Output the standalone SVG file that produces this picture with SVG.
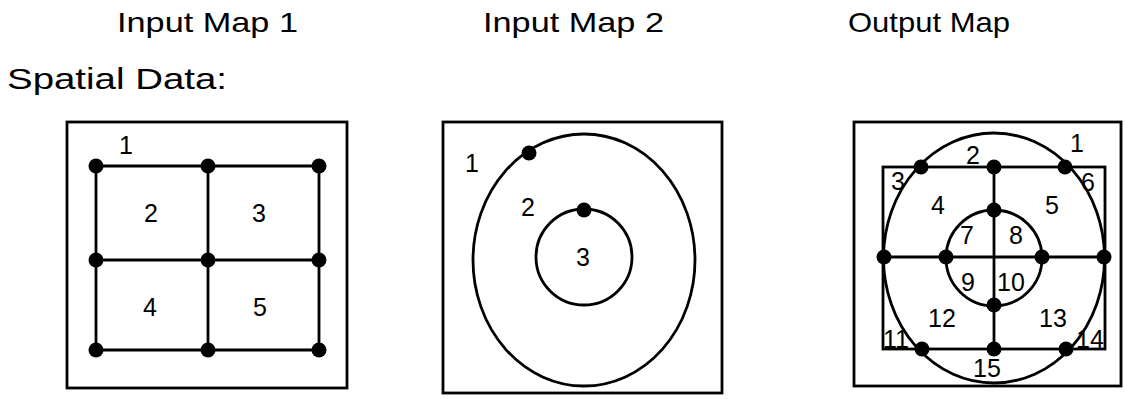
<svg xmlns="http://www.w3.org/2000/svg" width="1126" height="399" viewBox="0 0 1126 399">
<style>
.t{font-family:"Liberation Sans","DejaVu Sans",sans-serif;fill:#000}
.title{font-size:28px}
.lbl{font-size:25px;text-anchor:middle}
.box{fill:none;stroke:#000;stroke-width:2.8}
.ln{fill:none;stroke:#000;stroke-width:2.8}
.dot{fill:#000}
</style>
<rect width="1126" height="399" fill="#fff"/>
<g id="titles">
<text class="t title" x="117" y="32" textLength="181" lengthAdjust="spacingAndGlyphs">Input Map 1</text>
<text class="t title" x="483" y="32" textLength="181" lengthAdjust="spacingAndGlyphs">Input Map 2</text>
<text class="t title" x="848" y="32" textLength="162" lengthAdjust="spacingAndGlyphs">Output Map</text>
<text class="t" x="7" y="89" font-size="30" textLength="220" lengthAdjust="spacingAndGlyphs">Spatial Data:</text>
</g>
<g id="map1">
<rect class="box" x="67" y="122" width="280" height="266"/>
<path class="ln" d="M96,166 H319 M96,260 H319 M96,350 H319 M96,166 V350 M208,166 V350 M319,166 V350"/>
<g class="dot">
<circle cx="96" cy="166" r="7.5"/><circle cx="208" cy="166" r="7.5"/><circle cx="319" cy="166" r="7.5"/>
<circle cx="96" cy="260" r="7.5"/><circle cx="208" cy="260" r="7.5"/><circle cx="319" cy="260" r="7.5"/>
<circle cx="96" cy="350" r="7.5"/><circle cx="208" cy="350" r="7.5"/><circle cx="319" cy="350" r="7.5"/>
</g>
<text class="t lbl" x="126" y="154">1</text>
<text class="t lbl" x="151" y="222">2</text>
<text class="t lbl" x="259" y="222">3</text>
<text class="t lbl" x="150" y="316">4</text>
<text class="t lbl" x="260" y="316">5</text>
</g>
<g id="map2">
<rect class="box" x="443" y="122" width="279" height="271"/>
<ellipse class="ln" cx="584" cy="260" rx="111" ry="126"/>
<circle class="ln" cx="584" cy="257" r="48"/>
<circle class="dot" cx="529" cy="153" r="7.5"/>
<circle class="dot" cx="584" cy="210" r="7.5"/>
<text class="t lbl" x="472" y="172">1</text>
<text class="t lbl" x="528" y="216">2</text>
<text class="t lbl" x="583" y="266">3</text>
</g>
<g id="map3">
<rect class="box" x="854" y="122" width="267" height="264"/>
<ellipse class="ln" cx="994" cy="258" rx="110.5" ry="125"/>
<rect class="ln" x="883" y="167" width="222" height="182"/>
<path class="ln" d="M883,257 H1105 M994,167 V349"/>
<circle class="ln" cx="994" cy="258" r="48"/>
<g class="dot">
<circle cx="921" cy="167" r="7.5"/><circle cx="994" cy="167" r="7.5"/><circle cx="1065" cy="167" r="7.5"/>
<circle cx="994" cy="210" r="7.5"/>
<circle cx="884" cy="257" r="7.5"/><circle cx="946" cy="257" r="7.5"/><circle cx="1042" cy="257" r="7.5"/><circle cx="1104" cy="257" r="7.5"/>
<circle cx="994" cy="305" r="7.5"/>
<circle cx="922" cy="349" r="7.5"/><circle cx="994" cy="349" r="7.5"/><circle cx="1066" cy="349" r="7.5"/>
</g>
<text class="t lbl" x="1077" y="152">1</text>
<text class="t lbl" x="973" y="164">2</text>
<text class="t lbl" x="898" y="190">3</text>
<text class="t lbl" x="938" y="214">4</text>
<text class="t lbl" x="1052" y="214">5</text>
<text class="t lbl" x="1088" y="191">6</text>
<text class="t lbl" x="967" y="244">7</text>
<text class="t lbl" x="1016" y="244">8</text>
<text class="t lbl" x="968" y="291">9</text>
<text class="t lbl" x="1011" y="291">10</text>
<text class="t lbl" x="896" y="348">11</text>
<text class="t lbl" x="942" y="327">12</text>
<text class="t lbl" x="1053" y="327">13</text>
<text class="t lbl" x="1090" y="348">14</text>
<text class="t lbl" x="987" y="377">15</text>
</g>
</svg>
